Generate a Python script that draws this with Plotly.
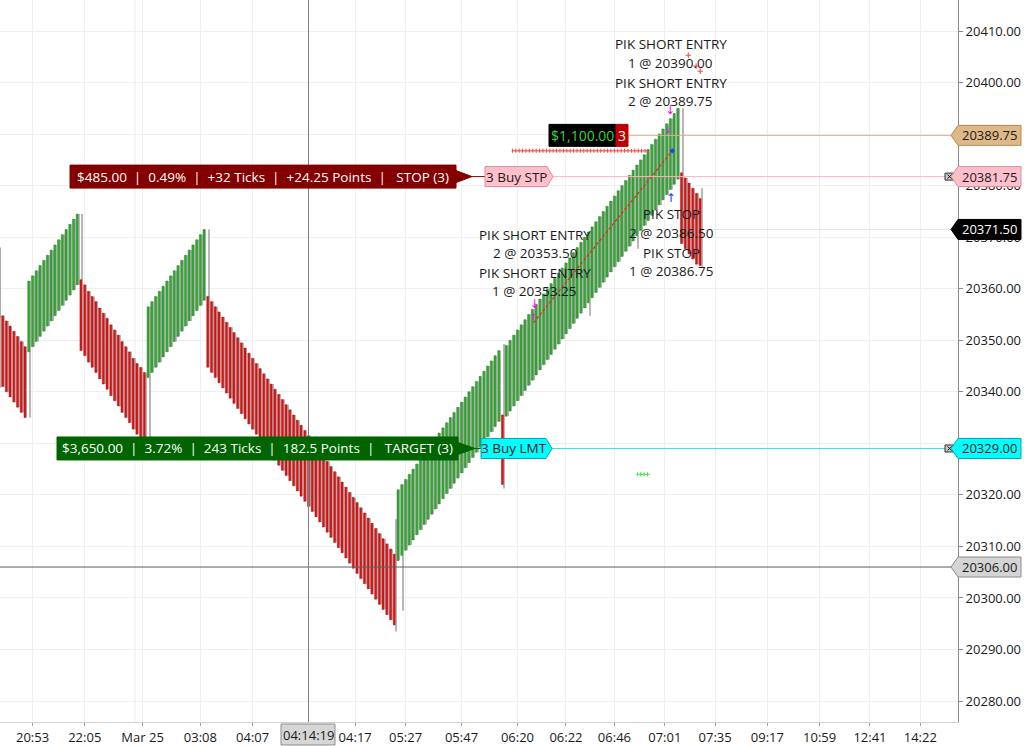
import plotly.graph_objects as go

# ---------------- data ----------------
prev_open = [20354.25]
prev_close = [20368.0]

a_open = [20354.75, 20353.75, 20352.75, 20351.75, 20350.75, 20349.75, 20348.75]
a_close = [20341.0, 20340.0, 20339.0, 20338.0, 20337.0, 20336.0, 20335.0]

b_open = [20347.75, 20348.75, 20349.75, 20350.75, 20351.75, 20352.75, 20353.75,
          20354.75, 20355.75, 20356.75, 20357.75, 20358.75, 20359.75, 20360.75]
b_close = [20361.5, 20362.5, 20363.5, 20364.5, 20365.5, 20366.5, 20367.5,
           20368.5, 20369.5, 20370.5, 20371.5, 20372.5, 20373.5, 20374.5]

c_open = [20361.75, 20360.75, 20359.5, 20358.5, 20357.5, 20356.25, 20355.25, 20354.25, 20353.0,
          20352.0, 20351.0, 20349.75, 20348.75, 20347.75, 20346.5, 20345.5, 20344.75, 20343.75]
c_close = [20348.0, 20347.0, 20345.75, 20344.75, 20343.75, 20342.5, 20341.5, 20340.5, 20339.25,
           20338.25, 20337.25, 20336.0, 20335.0, 20334.0, 20332.75, 20331.75, 20331.0, 20330.0]

d_open = [20342.75, 20343.75, 20344.75, 20345.75, 20346.75, 20347.75, 20348.75, 20349.75,
          20350.75, 20351.75, 20352.75, 20353.75, 20354.75, 20355.75, 20356.75, 20357.75]
d_close = [20356.5, 20357.5, 20358.5, 20359.5, 20360.5, 20361.5, 20362.5, 20363.5,
           20364.5, 20365.5, 20366.5, 20367.5, 20368.5, 20369.5, 20370.5, 20371.5]

e_open = [20358.5, 20357.5, 20356.5, 20355.5, 20354.5, 20353.5, 20352.5, 20351.5, 20350.5, 20349.5,
          20348.5, 20347.5, 20346.5, 20345.5, 20344.5, 20343.5, 20342.5, 20341.5, 20340.5, 20339.5,
          20338.5, 20337.5, 20336.5, 20335.5, 20334.5, 20333.5, 20332.5, 20331.5, 20330.5, 20329.5,
          20328.5, 20327.5, 20326.5, 20325.5, 20324.5, 20323.5, 20322.5, 20321.5, 20320.5, 20319.5,
          20318.5, 20317.5, 20316.5, 20315.5, 20314.5, 20313.5, 20312.5, 20311.5, 20310.5, 20309.5,
          20308.5]
e_close = [20344.75, 20343.75, 20342.75, 20341.75, 20340.75, 20339.75, 20338.75, 20337.75, 20336.75, 20335.75,
           20334.75, 20333.75, 20332.75, 20331.75, 20330.75, 20329.75, 20328.75, 20327.75, 20326.75, 20325.75,
           20324.75, 20323.75, 20322.75, 20321.75, 20320.75, 20319.75, 20318.75, 20317.75, 20316.75, 20315.75,
           20314.75, 20313.75, 20312.75, 20311.75, 20310.75, 20309.75, 20308.75, 20307.75, 20306.75, 20305.75,
           20304.75, 20303.75, 20302.75, 20301.75, 20300.75, 20299.75, 20298.75, 20297.75, 20296.75, 20295.75,
           20294.75]

f_open = [20307.25, 20308.25, 20309.25, 20310.25, 20311.25, 20312.25, 20313.25, 20314.25, 20315.25, 20316.25,
          20317.25, 20318.25, 20319.25, 20320.25, 20321.25, 20322.25, 20323.25, 20324.25, 20325.25, 20326.25,
          20327.25, 20328.25, 20329.25, 20330.25, 20331.25, 20332.25, 20333.25, 20334.25,
          20335.5,
          20335.25, 20336.25, 20337.25, 20338.25, 20339.25, 20340.25, 20341.25, 20342.25, 20343.25, 20344.25,
          20345.25, 20346.25, 20347.25, 20348.25, 20349.25, 20350.25, 20351.25, 20352.25, 20353.25, 20354.25,
          20355.25, 20356.25, 20357.25, 20358.25, 20359.25, 20360.25, 20361.25, 20362.25, 20363.25, 20364.25,
          20365.25, 20366.25, 20367.25, 20368.25, 20369.25, 20370.25, 20371.25, 20372.25, 20373.25, 20374.25,
          20375.25, 20376.25, 20377.25, 20378.25, 20379.25, 20380.25, 20381.25]
f_close = [20321.0, 20322.0, 20323.0, 20324.0, 20325.0, 20326.0, 20327.0, 20328.0, 20329.0, 20330.0,
           20331.0, 20332.0, 20333.0, 20334.0, 20335.0, 20336.0, 20337.0, 20338.0, 20339.0, 20340.0,
           20341.0, 20342.0, 20343.0, 20344.0, 20345.0, 20346.0, 20347.0, 20348.0,
           20322.0,
           20349.0, 20350.0, 20351.0, 20352.0, 20353.0, 20354.0, 20355.0, 20356.0, 20357.0, 20358.0,
           20359.0, 20360.0, 20361.0, 20362.0, 20363.0, 20364.0, 20365.0, 20366.0, 20367.0, 20368.0,
           20369.0, 20370.0, 20371.0, 20372.0, 20373.0, 20374.0, 20375.0, 20376.0, 20377.0, 20378.0,
           20379.0, 20380.0, 20381.0, 20382.0, 20383.0, 20384.0, 20385.0, 20386.0, 20387.0, 20388.0,
           20389.0, 20390.0, 20391.0, 20392.0, 20393.0, 20394.0, 20395.0]

g_open = [20382.5, 20381.5, 20380.5, 20379.5, 20378.5, 20377.5]
g_close = [20368.75, 20367.75, 20366.75, 20365.75, 20364.75, 20364.5]

# wick extremes that go beyond the body (bar index -> price)
wick_lows = {-1: 20340.75, 7: 20335.0, 39: 20330.0, 105: 20293.5, 107: 20297.5,
             134: 20321.25, 157: 20354.75, 170: 20367.75, 187: 20364.25}
wick_highs = {21: 20374.5, 55: 20371.5, 105: 20315.25, 134: 20349.25, 182: 20395.0, 187: 20379.5}

# time axis labels (bar index -> label)
tick_idx = [8, 22, 37.5, 53, 67, 94.5, 108, 123, 138, 151, 164, 177.5, 191, 205, 219, 232.5, 246]
tick_txt = ["20:53", "22:05", "Mar 25", "03:08", "04:07", "04:17", "05:27", "05:47", "06:20",
            "06:22", "06:46", "07:01", "07:35", "09:17", "10:59", "12:41", "14:22"]

# trade markers
entry_idx = [142.3]
entry_price = [20353.4]
exit_idx = [179.5]
exit_price = [20386.75]
stop_plot_idx = [136.5, 173.0]
stop_plot_price = [20386.75, 20386.75]
green_plot_idx = [170.0, 173.5]
green_plot_price = [20324.0, 20324.0]
red_dots_idx = [183.8, 185.9, 187.0]
red_dots_price = [20405.3, 20403.2, 20402.2]

price_levels = {"tan": 20389.75, "pink": 20381.75, "last": 20371.50, "cyan": 20329.00, "cross": 20306.00}

# ---------------- build ----------------
opens = prev_open + a_open + b_open + c_open + d_open + e_open + f_open + g_open
closes = prev_close + a_close + b_close + c_close + d_close + e_close + f_close + g_close
assert len(opens) == len(closes)
idx = list(range(-1, len(opens) - 1))

body_base = [min(o, c) for o, c in zip(opens, closes)]
body_len = [abs(c - o) for o, c in zip(opens, closes)]
body_col = ["#30ad30" if c >= o else "#e81010" for o, c in zip(opens, closes)]
body_line = ["#1e741e" if c >= o else "#900a0a" for o, c in zip(opens, closes)]
w_lo = [wick_lows.get(i, min(o, c)) for i, o, c in zip(idx, opens, closes)]
w_hi = [wick_highs.get(i, max(o, c)) for i, o, c in zip(idx, opens, closes)]

Y_TOP, Y_BOT = 20416.015, 20275.93
X_MIN, X_MAX = -0.724, 256.1
PW, PH = 958.0, 722.0

def X(px):
    return px / PW

def Yp(py):
    return 1 - py / PH

def P(price):
    return (price - Y_BOT) / (Y_TOP - Y_BOT)

FONT = "Open Sans, Noto Sans, sans-serif"

fig = go.Figure()
fig.add_trace(go.Bar(x=idx, base=w_lo, y=[h - l for h, l in zip(w_hi, w_lo)], width=0.28, offset=0.22,
                     marker=dict(color="#b8b8b8", line=dict(width=0)), hoverinfo="skip"))
fig.add_trace(go.Bar(x=idx, base=body_base, y=body_len, width=0.52, offset=-0.3,
                     marker=dict(color=body_col, line=dict(color=body_line, width=0.4)), hoverinfo="skip"))

# trade line
fig.add_trace(go.Scatter(x=entry_idx + exit_idx, y=entry_price + exit_price, mode="lines",
                         line=dict(color="#f02020", width=1.2, dash="3px,2px"), hoverinfo="skip"))
# stop plot (+++)
fig.add_trace(go.Scatter(x=stop_plot_idx, y=stop_plot_price, mode="lines",
                         line=dict(color="#ff3b3b", width=1), hoverinfo="skip"))
fig.add_trace(go.Scatter(x=stop_plot_idx, y=stop_plot_price, mode="lines",
                         line=dict(color="#ff3b3b", width=4, dash="1px,2.4px"), hoverinfo="skip"))
fig.add_trace(go.Scatter(x=green_plot_idx, y=green_plot_price, mode="lines",
                         line=dict(color="#3ee03e", width=1), hoverinfo="skip"))
fig.add_trace(go.Scatter(x=green_plot_idx, y=green_plot_price, mode="lines",
                         line=dict(color="#3ee03e", width=4, dash="1px,2.4px"), hoverinfo="skip"))
fig.add_trace(go.Scatter(x=red_dots_idx, y=red_dots_price, mode="markers",
                         marker=dict(symbol="cross-thin", size=4, line=dict(color="#ff4040", width=1)),
                         hoverinfo="skip"))
# execution arrows
fig.add_trace(go.Scatter(x=[178.9, 178.4, 142.6, 142.3], y=[20394.4, 20390.6, 20356.9, 20354.3],
                         mode="text", text=["↓", "↓", "↓", "↑"],
                         textfont=dict(color="#ff00ff", size=[12, 9, 12, 9], family="DejaVu Sans"),
                         hoverinfo="skip"))
fig.add_trace(go.Scatter(x=[179.1], y=[20377.4], mode="text", text=["↑"],
                         textfont=dict(color="#1a3cff", size=12, family="DejaVu Sans"), hoverinfo="skip"))
fig.add_trace(go.Scatter(x=exit_idx, y=exit_price, mode="markers",
                         marker=dict(color="#1a3cff", size=4, symbol="diamond"), hoverinfo="skip"))

shapes = []
ann = []

# day separator grid line
shapes.append(dict(type="line", xref="paper", yref="paper", x0=X(135), x1=X(135), y0=0, y1=1,
                   line=dict(color="#ececec", width=1), layer="below"))

# horizontal price lines
shapes.append(dict(type="line", xref="paper", yref="paper", x0=X(629), x1=1, y0=P(price_levels["tan"]),
                   y1=P(price_levels["tan"]), line=dict(color="#d9b48a", width=1)))
shapes.append(dict(type="line", xref="paper", yref="paper", x0=X(552), x1=1, y0=P(price_levels["pink"]),
                   y1=P(price_levels["pink"]), line=dict(color="#ffb3c0", width=1)))
shapes.append(dict(type="line", xref="paper", yref="paper", x0=X(706), x1=1, y0=P(price_levels["last"]),
                   y1=P(price_levels["last"]), line=dict(color="#e6e6e6", width=1)))
shapes.append(dict(type="line", xref="paper", yref="paper", x0=X(551), x1=1, y0=P(price_levels["cyan"]),
                   y1=P(price_levels["cyan"]), line=dict(color="#33e6f0", width=1)))
# crosshair
shapes.append(dict(type="line", xref="paper", yref="paper", x0=0, x1=1, y0=P(price_levels["cross"]),
                   y1=P(price_levels["cross"]), line=dict(color="#5e5e5e", width=1)))
shapes.append(dict(type="line", xref="paper", yref="paper", x0=X(308.5), x1=X(308.5), y0=0, y1=1,
                   line=dict(color="#808080", width=1)))

# small x boxes
for key in ["pink", "cyan"]:
    yc = P(price_levels[key])
    h = 3.5 / PH
    shapes.append(dict(type="rect", xref="paper", yref="paper", x0=X(945), x1=X(954), y0=yc - h, y1=yc + h,
                       fillcolor="#c8c8c8", line=dict(color="#303030", width=1)))
    shapes.append(dict(type="line", xref="paper", yref="paper", x0=X(947.5), x1=X(951.5), y0=yc - h * 0.6,
                       y1=yc + h * 0.6, line=dict(color="#202020", width=1)))
    shapes.append(dict(type="line", xref="paper", yref="paper", x0=X(947.5), x1=X(951.5), y0=yc + h * 0.6,
                       y1=yc - h * 0.6, line=dict(color="#202020", width=1)))

# right-axis price labels
def right_label(price, fill, border, tcolor, text):
    yc = P(price)
    h = 10.0 / PH
    path = (f"M {X(951)},{yc} L {X(958)},{yc + h} L {X(1021)},{yc + h} "
            f"L {X(1021)},{yc - h} L {X(958)},{yc - h} Z")
    shapes.append(dict(type="path", xref="paper", yref="paper", path=path, fillcolor=fill,
                       line=dict(color=border, width=1), layer="above"))
    ann.append(dict(xref="paper", yref="paper", x=X(989), y=yc, text=text, showarrow=False,
                    xanchor="center", yanchor="middle", font=dict(family=FONT, size=13, color=tcolor)))

right_label(price_levels["tan"], "#deb887", "#b58a52", "#1a1a1a", "20389.75")
right_label(price_levels["pink"], "#ffc0cb", "#d88d9a", "#1a1a1a", "20381.75")
right_label(price_levels["last"], "#000000", "#000000", "#ffffff", "20371.50")
right_label(price_levels["cyan"], "#00ffff", "#00a8b0", "#1a1a1a", "20329.00")
right_label(price_levels["cross"], "#d4d4d4", "#8c8c8c", "#1a1a1a", "20306.00")

# order labels (left boxes with arrow)
def order_label(price, x0, x1, tip, fill, text, tag_x0, tag_x1, tag_fill, tag_border, tag_text):
    yc = P(price)
    h = 11.5 / PH
    shapes.append(dict(type="rect", xref="paper", yref="paper", x0=X(x0), x1=X(x1), y0=yc - h, y1=yc + h,
                       fillcolor=fill, line=dict(color=fill, width=1), layer="above"))
    shapes.append(dict(type="path", xref="paper", yref="paper",
                       path=f"M {X(x1)},{yc + 6 / PH} L {X(tip)},{yc} L {X(x1)},{yc - 6 / PH} Z",
                       fillcolor=fill, line=dict(color=fill, width=1), layer="above"))
    shapes.append(dict(type="line", xref="paper", yref="paper", x0=X(tip), x1=X(tag_x0), y0=yc, y1=yc,
                       line=dict(color=fill, width=1), layer="above"))
    ann.append(dict(xref="paper", yref="paper", x=X((x0 + x1) / 2), y=yc, text=text, showarrow=False,
                    xanchor="center", yanchor="middle", font=dict(family=FONT, size=13.5, color="#ffffff")))
    th = 10 / PH
    tpath = (f"M {X(tag_x0)},{yc + th} L {X(tag_x1 - 6)},{yc + th} L {X(tag_x1)},{yc} "
             f"L {X(tag_x1 - 6)},{yc - th} L {X(tag_x0)},{yc - th} Z")
    shapes.append(dict(type="path", xref="paper", yref="paper", path=tpath, fillcolor=tag_fill,
                       line=dict(color=tag_border, width=1), layer="above"))
    ann.append(dict(xref="paper", yref="paper", x=X((tag_x0 + tag_x1 - 6) / 2), y=yc, text=tag_text,
                    showarrow=False, xanchor="center", yanchor="middle",
                    font=dict(family=FONT, size=13.5, color="#1a1a1a")))

sp = "\u00a0\u00a0|\u00a0\u00a0"
order_label(price_levels["pink"], 70, 456, 472, "#840000",
            "$485.00" + sp + "0.49%" + sp + "+32 Ticks" + sp + "+24.25 Points" + sp + "\u00a0STOP (3)",
            485, 553, "#ffc0cb", "#d88d9a", "3 Buy STP")
order_label(price_levels["cyan"], 57, 458, 475, "#006400",
            "$3,650.00" + sp + "3.72%" + sp + "243 Ticks" + sp + "182.5 Points" + sp + "\u00a0TARGET (3)",
            481, 552, "#00ffff", "#00a8b0", "3 Buy LMT")

# position PnL label
ytan = P(price_levels["tan"])
hh = 11 / PH
shapes.append(dict(type="rect", xref="paper", yref="paper", x0=X(549), x1=X(616), y0=ytan - hh, y1=ytan + hh,
                   fillcolor="#000000", line=dict(color="#000000", width=1), layer="above"))
shapes.append(dict(type="rect", xref="paper", yref="paper", x0=X(616), x1=X(628), y0=ytan - hh, y1=ytan + hh,
                   fillcolor="#c00000", line=dict(color="#c00000", width=1), layer="above"))
ann.append(dict(xref="paper", yref="paper", x=X(582.5), y=ytan, text="$1,100.00", showarrow=False,
                font=dict(family=FONT, size=14, color="#3ad23a"), xanchor="center", yanchor="middle"))
ann.append(dict(xref="paper", yref="paper", x=X(622), y=ytan, text="3", showarrow=False,
                font=dict(family=FONT, size=14, color="#ffffff"), xanchor="center", yanchor="middle"))

# execution texts
texts = [
    ("PIK SHORT ENTRY", 670.5, 44), ("1 @ 20390.00", 670, 63),
    ("PIK SHORT ENTRY", 670.5, 83), ("2 @ 20389.75", 670, 101),
    ("PIK SHORT ENTRY", 535, 235), ("2 @ 20353.50", 535, 253),
    ("PIK SHORT ENTRY", 535, 273), ("1 @ 20353.25", 534, 291),
    ("PIK STOP", 671, 214), ("2 @ 20386.50", 671, 233),
    ("PIK STOP", 671, 253), ("1 @ 20386.75", 671, 271),
]
for t, px, py in texts:
    ann.append(dict(xref="paper", yref="paper", x=X(px), y=Yp(py), text=t, showarrow=False,
                    xanchor="center", yanchor="middle", font=dict(family=FONT, size=13.5, color="#1a1a1a")))

# crosshair time label
shapes.append(dict(type="rect", xref="paper", yref="paper", x0=X(281), x1=X(335), y0=Yp(745), y1=Yp(724),
                   fillcolor="#d6d6d6", line=dict(color="#8c8c8c", width=1), layer="above"))
ann.append(dict(xref="paper", yref="paper", x=X(308), y=Yp(735), text="04:14:19", showarrow=False,
                xanchor="center", yanchor="middle", font=dict(family=FONT, size=13, color="#1a1a1a")))

fig.update_layout(
    width=1024, height=746,
    margin=dict(l=0, r=66, t=0, b=24),
    plot_bgcolor="#ffffff", paper_bgcolor="#ffffff",
    barmode="overlay", showlegend=False, hovermode=False,
    shapes=shapes, annotations=ann,
    font=dict(family=FONT, size=13, color="#1a1a1a"),
    xaxis=dict(range=[X_MIN, X_MAX], tickmode="array", tickvals=tick_idx, ticktext=tick_txt,
               showgrid=True, gridcolor="#efefef", gridwidth=1, zeroline=False,
               showline=True, linecolor="#d0d0d0", ticks="outside", ticklen=3, tickcolor="#9a9a9a",
               tickfont=dict(family=FONT, size=13, color="#1a1a1a")),
    yaxis=dict(range=[Y_BOT, Y_TOP], side="right", dtick=10, tick0=20280, tickformat=".2f",
               showgrid=True, gridcolor="#efefef", gridwidth=1, zeroline=False,
               showline=True, linecolor="#8c8c8c", ticks="outside", ticklen=4, tickcolor="#8c8c8c",
               tickfont=dict(family=FONT, size=13, color="#1a1a1a")),
)

fig.write_html("out.html", config={"displayModeBar": False},
               post_script="document.body.style.margin='0px';document.body.style.overflow='hidden';")
